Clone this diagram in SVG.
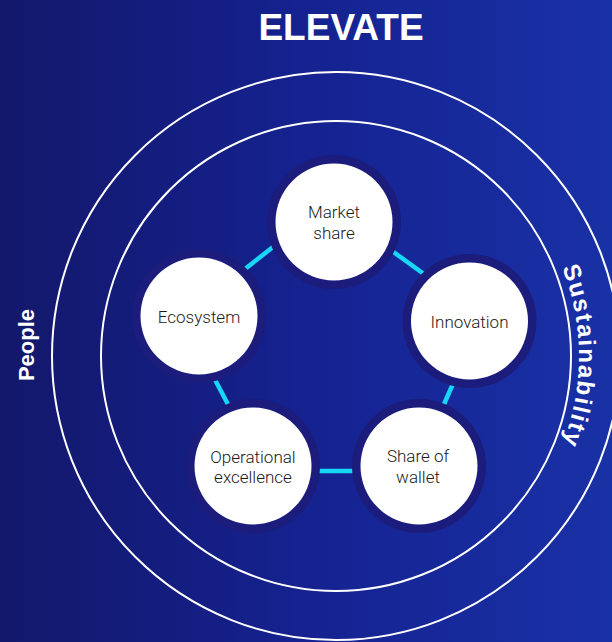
<svg xmlns="http://www.w3.org/2000/svg" width="612" height="642" viewBox="0 0 612 642">
  <defs>
    <linearGradient id="bg" x1="0" y1="0" x2="1" y2="0">
      <stop offset="0" stop-color="#13186a"/>
      <stop offset="0.5" stop-color="#152290"/>
      <stop offset="1" stop-color="#1931a6"/>
    </linearGradient>
    <path id="sustPath" d="M 336 113 A 243 243 0 0 1 336 599"/>
    <style>
      .ring { fill: #1b1c7b; }
      .disc { fill: #ffffff; }
      .lbl { font-family: Roboto, "Liberation Sans", sans-serif; font-size: 17px; font-weight: 300; fill: #1a1a1a; text-anchor: middle; }
      .orbit { fill: none; stroke: #ffffff; stroke-width: 2; }
      .link { stroke: #18d6f5; stroke-width: 4.5; fill: none; }
      .side { font-family: "Liberation Sans", Arial, sans-serif; font-weight: bold; fill: #ffffff; }
    </style>
  </defs>
  <rect x="0" y="0" width="612" height="642" fill="url(#bg)"/>

  <g id="orbits">
    <circle class="orbit" cx="336" cy="356" r="284"/>
    <circle class="orbit" cx="336" cy="356" r="235"/>
  </g>

  <text id="title" x="341" y="40" font-family="Liberation Sans, Arial, sans-serif" font-size="37" font-weight="bold" fill="#ffffff" text-anchor="middle">ELEVATE</text>

  <text id="people" class="side" font-size="22" text-anchor="middle" transform="translate(34,345) rotate(-90)">People</text>

  <text id="sustainability" class="side" font-size="24" letter-spacing="1.8"><textPath href="#sustPath" startOffset="50%" text-anchor="middle">Sustainability</textPath></text>

  <g id="connectors">
    <line class="link" x1="240" y1="273" x2="278" y2="243"/>
    <line class="link" x1="388" y1="248" x2="428" y2="277"/>
    <line class="link" x1="456" y1="377" x2="441" y2="411"/>
    <line class="link" x1="315" y1="471" x2="358" y2="471"/>
    <line class="link" x1="212" y1="374" x2="232" y2="412"/>
  </g>

  <g id="node-market-share">
    <circle class="ring" cx="334" cy="222" r="67"/>
    <circle class="disc" cx="334" cy="222" r="58.5"/>
    <text class="lbl" x="334" y="218">Market</text>
    <text class="lbl" x="334" y="239">share</text>
  </g>

  <g id="node-ecosystem">
    <circle class="ring" cx="199" cy="316" r="67"/>
    <circle class="disc" cx="199" cy="316" r="58.5"/>
    <text class="lbl" x="199" y="323">Ecosystem</text>
  </g>

  <g id="node-innovation">
    <circle class="ring" cx="469.5" cy="321" r="67"/>
    <circle class="disc" cx="469.5" cy="321" r="58.5"/>
    <text class="lbl" x="469.5" y="328">Innovation</text>
  </g>

  <g id="node-share-of-wallet">
    <circle class="ring" cx="419" cy="466" r="67"/>
    <circle class="disc" cx="419" cy="466" r="58.5"/>
    <text class="lbl" x="418" y="462">Share of</text>
    <text class="lbl" x="418" y="483">wallet</text>
  </g>

  <g id="node-operational-excellence">
    <circle class="ring" cx="253" cy="466" r="67"/>
    <circle class="disc" cx="253" cy="466" r="58.5"/>
    <text class="lbl" x="253" y="463">Operational</text>
    <text class="lbl" x="253" y="483">excellence</text>
  </g>
</svg>
